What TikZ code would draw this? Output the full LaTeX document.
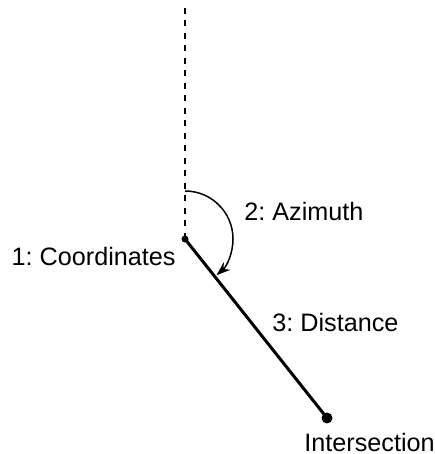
\documentclass[tikz,border=0pt]{standalone}
\usepackage{fontspec}
\setmainfont{Liberation Sans}
\usetikzlibrary{arrows.meta, calc}
\frenchspacing
\begin{document}
\begin{tikzpicture}[x=0.5pt, y=0.5pt,
    label/.style={inner sep=0pt, font=\fontsize{12.6}{15}\selectfont},
    dot/.style={circle, fill=black, inner sep=0pt, minimum size=#1},
    guide/.style={draw, dashed, line width=0.9pt, dash pattern=on 3pt off 3.25pt},
    track/.style={draw, line width=1.5pt},
    sweep/.style={draw, line width=0.75pt, -{Stealth[length=7pt, width=5pt]}}]
    \useasboundingbox (0,0) rectangle (434,454);
    \node [dot=3.5pt] (origin) at (185,215) {};
    \node [dot=5.5pt] (target) at ($(origin.center)+(142,-179)$) {};
    \coordinate (north) at (185,449);
    \coordinate (sweepstart) at (185,263);

    \path [guide] (origin.center) -- (north);
    \path [track] (origin.center) -- (target.center);
    \path [sweep] (sweepstart) arc [start angle=90, end angle=-49, radius=48];

    \node [label, anchor=base east] (coords) at (176,188) {1: Coordinates};
    \node [label, anchor=base west] (azimuth) at (244,233) {2: Azimuth};
    \node [label, anchor=base west] (distance) at (272,122) {3: Distance};
    \node [label, anchor=base west] (meet) at (304,3) {Intersection};
\end{tikzpicture}
\end{document}
